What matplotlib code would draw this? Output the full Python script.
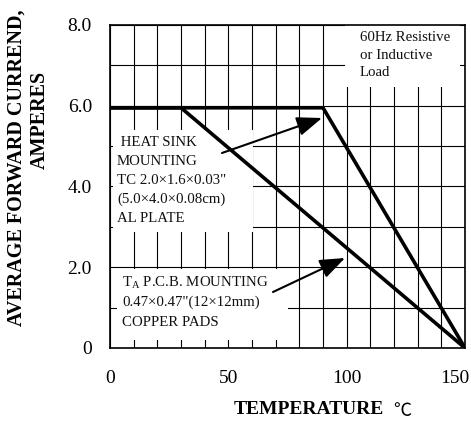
import matplotlib
matplotlib.use("Agg")
import matplotlib.pyplot as plt
from matplotlib.patches import Rectangle
from matplotlib.transforms import ScaledTranslation

plt.rcParams['font.family'] = ['Liberation Serif', 'DejaVu Sans']
plt.rcParams['mathtext.fontset'] = 'custom'
plt.rcParams['mathtext.rm'] = 'Liberation Serif'

# ---- data ----
heatsink_temp = [1, 90, 150]
heatsink_current = [5.95, 5.95, 0]
pcb_temp = [1, 30, 150]
pcb_current = [5.95, 5.95, 0]

x_ticks = [0, 50, 100, 150]
x_ticklabels = ["0", "50", "100", "150"]
y_ticks = [0, 2, 4, 6, 8]
y_ticklabels = ["0", "2.0", "4.0", "6.0", "8.0"]
x_grid = list(range(0, 151, 10))
y_grid = list(range(0, 9, 1))

heatsink_lines = [" HEAT SINK", "MOUNTING", 'TC 2.0\u00d71.6\u00d70.03"',
                  "(5.0\u00d74.0\u00d70.08cm)", "AL PLATE"]
pcb_lines = [r"T$_\mathrm{A}$ P.C.B. MOUNTING", '0.47\u00d70.47"(12\u00d712mm)',
             "COPPER PADS"]
load_lines = ["60Hz Resistive", "or Inductive", "Load"]

W, H = 471, 429
fig = plt.figure(figsize=(W / 100, H / 100), dpi=100)
ax = fig.add_axes([110 / W, 1 - 348 / H, 355 / W, 323 / H])
ax.set_xlim(0, 150)
ax.set_ylim(0, 8)

# grid
ax.set_xticks(x_grid, minor=True)
ax.set_yticks(y_grid, minor=True)
ax.grid(which='both', color='black', linewidth=0.8, zorder=0)
ax.set_axisbelow(True)

ax.set_xticks(x_ticks)
ax.set_xticklabels(x_ticklabels)
ax.set_yticks(y_ticks)
ax.set_yticklabels(y_ticklabels)
ax.tick_params(which='both', length=0)
ax.tick_params(axis='x', pad=16, labelsize=14)
ax.tick_params(axis='y', pad=13, labelsize=14)
for sp in ax.spines.values():
    sp.set_linewidth(1.2)

# shift last x label slightly left as in reference
lbl = ax.get_xticklabels()[-1]
lbl.set_transform(lbl.get_transform() + ScaledTranslation(-10 / 100, 0, fig.dpi_scale_trans))

# white masks behind annotation texts
for (x0, y0, w, h) in [(0.008, 0.359, 0.395, 0.316),
                       (0.02, 0.025, 0.48, 0.22),
                       (0.662, 0.808, 0.324, 0.192)]:
    ax.add_patch(Rectangle((x0, y0), w, h, transform=ax.transAxes,
                           facecolor='white', edgecolor='none', zorder=1))

# curves
ax.plot(heatsink_temp, heatsink_current, color='black', lw=2.6, zorder=3,
        solid_joinstyle='miter')
ax.plot(pcb_temp, pcb_current, color='black', lw=2.6, zorder=3,
        solid_joinstyle='miter')

def px(xp, yp):
    return ((xp - 110) / 355, (348 - yp) / 323)

fs = 10.7
for i, t in enumerate(heatsink_lines):
    ax.text(*px(117, 143 + i * 18.8), t, transform=ax.transAxes, fontsize=fs,
            va='center', ha='left', color='#111111', zorder=4)
for i, t in enumerate(pcb_lines):
    ax.text(*px(122, 283 + i * 19.5), t, transform=ax.transAxes, fontsize=fs,
            va='center', ha='left', color='#111111', zorder=4)
for i, t in enumerate(load_lines):
    ax.text(*px(360, 38 + i * 17.5), t, transform=ax.transAxes, fontsize=fs,
            va='center', ha='left', color='#111111', zorder=4)

arrow = dict(arrowstyle='-|>,head_length=1.1,head_width=0.42', color='black',
             lw=1.5, mutation_scale=14, shrinkA=0, shrinkB=0)
ax.annotate('', xy=px(322, 118), xytext=px(222, 153), xycoords='axes fraction',
            textcoords='axes fraction', arrowprops=arrow, zorder=5)
ax.annotate('', xy=px(345, 258), xytext=px(273, 292), xycoords='axes fraction',
            textcoords='axes fraction', arrowprops=arrow, zorder=5)

# axis labels
fig.text(384 / W, 1 - 410 / H, "TEMPERATURE", fontsize=14, fontweight='bold',
         ha='right', va='center')
fig.text(393 / W, 1 - 411 / H, "\u2103", fontsize=13,
         family=['Noto Sans CJK SC', 'DejaVu Sans'], ha='left', va='center')
fig.text(17 / W, 1 - 168 / H, "AVERAGE FORWARD CURREND,", fontsize=14.5,
         fontweight='bold', rotation=90, ha='center', va='center')
fig.text(40 / W, 1 - 120 / H, "AMPERES", fontsize=14.5, fontweight='bold',
         rotation=90, ha='center', va='center')

fig.savefig("out.png", dpi=100)
